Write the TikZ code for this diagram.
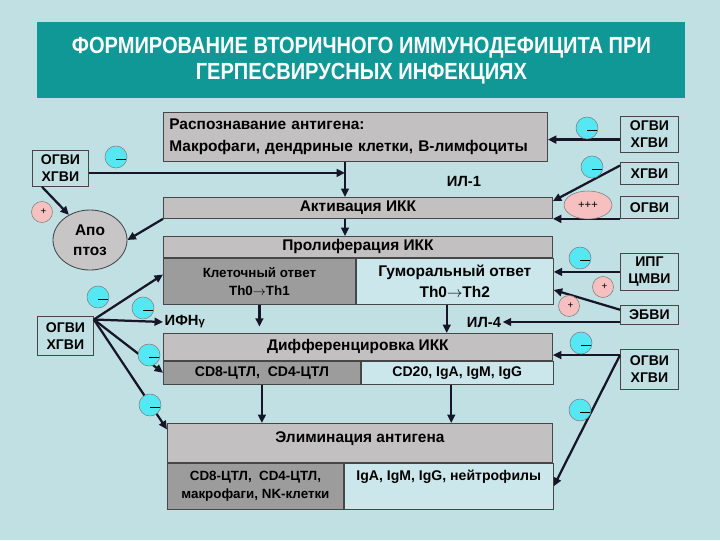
\documentclass[tikz,border=0pt]{standalone}
\usepackage{fontspec}
\setmainfont{Liberation Sans}
\newfontfamily\titlefont[FakeStretch=0.86]{Liberation Sans}
\usetikzlibrary{arrows.meta, shapes.geometric, positioning}

\definecolor{BackColor}{RGB}{193,224,228}
\definecolor{TitleColor}{RGB}{16,152,150}
\definecolor{BoxColor}{RGB}{194,192,192}
\definecolor{DarkBoxColor}{RGB}{156,156,156}
\definecolor{LightBoxColor}{RGB}{204,231,236}
\definecolor{LineColor}{RGB}{22,22,38}
\definecolor{EdgeColor}{RGB}{70,70,70}
\definecolor{MinusColor}{RGB}{86,232,242}
\definecolor{PlusColor}{RGB}{246,192,192}

\tikzset{
  block/.style 2 args={rectangle, draw=EdgeColor, line width=0.6pt, fill=BoxColor, anchor=north west, inner sep=0pt,
    minimum width=#1*0.025cm, minimum height=#2*0.025cm, font=\bfseries\fontsize{11}{13}\selectfont, align=center},
  darkbox/.style={fill=DarkBoxColor},
  lightbox/.style={fill=LightBoxColor},
  virus/.style 2 args={block={#1}{#2}, fill=BackColor, font=\bfseries\fontsize{10}{12}\selectfont},
  arr/.style={line width=1.6pt, LineColor, -{Triangle[length=6pt,width=5.5pt]}},
  inhibit/.style={circle, draw=EdgeColor!70, line width=0.4pt, fill=MinusColor, minimum size=22*0.025cm, inner sep=0pt,
    path picture={\draw[line width=0.5pt, black] ([yshift=-1.5pt]path picture bounding box.center) -- ([yshift=-1.5pt]path picture bounding box.east);}},
  enhance/.style={circle, draw=EdgeColor!70, line width=0.4pt, fill=PlusColor, minimum size=21*0.025cm, inner sep=0pt,
    font=\fontsize{7}{7}\selectfont},
  lbl/.style={font=\bfseries\fontsize{10.5}{12}\selectfont, inner sep=1pt}
}

\begin{document}
\begin{tikzpicture}[x=0.025cm, y=-0.025cm]
  \useasboundingbox (0,0) rectangle (720,540);
  \fill[BackColor] (0,0) rectangle (720,540);

  % Title
  \node[block={648}{76}, fill=TitleColor, draw=none, text=white, font=\titlefont\bfseries\fontsize{16.6}{18.5}\selectfont] (title) at (37,22)
    {ФОРМИРОВАНИЕ ВТОРИЧНОГО ИММУНОДЕФИЦИТА ПРИ\\ГЕРПЕСВИРУСНЫХ ИНФЕКЦИЯХ};

  % Central blocks
  \node[block={384}{49}, align=left, text width=9.3cm] (recog) at (163,112)
    {Распознавание антигена:\\[3pt]Макрофаги, дендриные клетки, В-лимфоциты};
  \node[block={389}{21}] (activ) at (163,197) {Активация ИКК};

  \node[block={389}{21}] (prolhead) at (163,236) {Пролиферация ИКК};
  \node[block={192}{46}, darkbox, font=\bfseries\fontsize{9.5}{13}\selectfont] (proleft) at (prolhead.south west)
    {Клеточный ответ\\Th0$\rightarrow$Th1};
  \node[block={197}{46}, lightbox] (proright) at (proleft.north east)
    {Гуморальный ответ\\[2pt]Th0$\rightarrow$Th2};

  \node[block={389}{27}] (diffhead) at (163,333) {Дифференцировка ИКК};
  \node[block={197}{23}, darkbox, font=\bfseries\fontsize{10}{12}\selectfont] (diffleft) at (diffhead.south west)
    {CD8-ЦТЛ,\ \ CD4-ЦТЛ};
  \node[block={192}{23}, lightbox, font=\bfseries\fontsize{10}{12}\selectfont] (diffright) at (diffleft.north east)
    {CD20, IgA, IgM, IgG};

  \node[block={385}{39}] (elimhead) at (167,423) {Элиминация антигена\\[-4pt]\mbox{}};
  \node[block={176}{46}, darkbox, font=\bfseries\fontsize{9.5}{12.5}\selectfont] (elimleft) at (elimhead.south west)
    {CD8-ЦТЛ,\ \ CD4-ЦТЛ,\\макрофаги, NK-клетки};
  \node[block={209}{46}, lightbox, font=\bfseries\fontsize{10}{16}\selectfont] (elimright) at (elimleft.north east)
    {IgA, IgM, IgG, нейтрофилы\\\mbox{}};

  % Left side
  \node[virus={56}{36}] (ogviL1) at (32,150) {ОГВИ\\ХГВИ};
  \node[ellipse, draw=EdgeColor, line width=0.6pt, fill=BoxColor!92!white, minimum width=74*0.025cm, minimum height=60*0.025cm,
    inner sep=0pt, align=center, font=\bfseries\fontsize{11}{14}\selectfont] (apopt) at (90,240) {Апо\\птоз};
  \node[virus={56}{39}] (ogviL2) at (37,316) {ОГВИ\\ХГВИ};

  % Right side
  \node[virus={58}{36}] (ogviTop) at (620,116) {ОГВИ\\ХГВИ};
  \node[virus={58}{22}] (hgviR) at (620,162) {ХГВИ};
  \node[virus={58}{22}] (ogviR) at (620,196) {ОГВИ};
  \node[virus={58}{37}] (ipgR) at (620,253) {ИПГ\\ЦМВИ};
  \node[virus={58}{19}] (ebviR) at (620,305) {ЭБВИ};
  \node[virus={58}{40}] (ogviBot) at (620,349) {ОГВИ\\ХГВИ};

  % Mediators
  \node[lbl] (il1) at (464,181) {ИЛ-1};
  \node[lbl, anchor=west] (ifn) at (163,322) {ИФН{\fontsize{8}{8}\selectfont γ}};
  \node[lbl] (il4) at (484,322) {ИЛ-4};

  % Main flow
  \coordinate (rx) at (345,0);
  \draw[arr, line width=1.1pt] (recog.south -| rx) -- (activ.north -| rx);
  \draw[arr, line width=1.1pt] (activ.south -| rx) -- (prolhead.north -| rx);
  \draw[arr] (proleft.south) -- ++(0,22);
  \draw[arr] ([xshift=-2mm]proright.south) -- ([xshift=-2mm]proright.south |- diffhead.north);
  \draw[arr] (diffleft.south) -- (diffleft.south |- elimhead.north);
  \draw[arr] ([xshift=-1.5mm]diffright.south) -- ([xshift=-1.5mm]diffright.south |- elimhead.north);

  % Left arrows
  \draw[arr] (ogviL1.-9) -- (ogviL1.-9 -| rx);
  \draw[arr] (ogviL1.225) -- (apopt.130);
  \draw[arr] (activ.south west) -- (apopt.east);
  \draw[arr] (ogviL2.30) -- (proleft.176);
  \draw[arr] (ogviL2.30) -- (ifn.west);
  \draw[arr] (ogviL2.30) -- (diffleft.west);
  \draw[arr] (ogviL2.30) -- (elimhead.176);

  % Right arrows
  \draw[arr] (ogviTop.190) -- (ogviTop.190 -| recog.east);
  \draw[arr] (hgviR.165) -- (activ.2);
  \draw[arr] (ogviR.south west) -- (ogviR.south west -| activ.east);
  \draw[arr] (ipgR.west) -- (ipgR.west -| proright.east);
  \draw[arr] (ebviR.170) -- (proright.-5);
  \draw[arr] (ebviR.west |- il4.east) -- (il4.east);
  \draw[arr] (ogviBot.154) -- (ogviBot.154 -| diffhead.east);
  \draw[arr] (ogviBot.154) -- (elimright.east);

  % Signs
  \node[inhibit] (mA) at (116,157) {};
  \node[enhance] (pA) at (42,212) {\raisebox{-2pt}{\hspace{2pt}+}};
  \node[inhibit] (mB) at (98,297) {};
  \node[inhibit] (mC) at (143,308) {};
  \node[inhibit] (mD) at (149,355) {};
  \node[inhibit] (mE) at (150,405) {};
  \node[inhibit] (mF) at (587,128) {};
  \node[inhibit] (mG) at (592,167) {};
  \node[ellipse, draw=EdgeColor!70, line width=0.4pt, fill=PlusColor, minimum width=48*0.025cm, minimum height=28*0.025cm,
    inner sep=0pt, font=\fontsize{8}{8}\selectfont] (pB) at (588,205) {+++};
  \node[inhibit] (mH) at (580,258) {};
  \node[enhance] (pC) at (603,287) {\raisebox{-2pt}{\hspace{2pt}+}};
  \node[enhance] (pD) at (569,306) {\raisebox{-2pt}{\hspace{2pt}+}};
  \node[inhibit] (mI) at (581,343) {};
  \node[inhibit] (mJ) at (580,410) {};
\end{tikzpicture}
\end{document}
